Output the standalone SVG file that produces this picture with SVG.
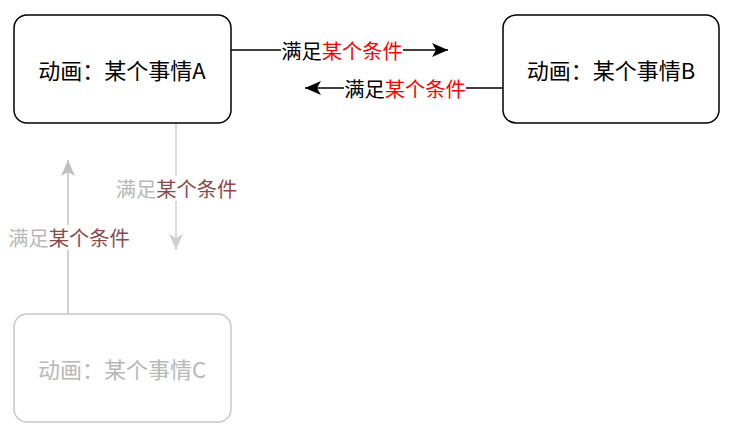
<svg xmlns="http://www.w3.org/2000/svg" width="733" height="437" viewBox="0 0 733 437">
<style>
text{font-family:"Noto Sans CJK SC","Noto Sans",sans-serif;font-size:22px;text-anchor:middle;dominant-baseline:central}
.node{fill:#fff;stroke:#000;stroke-width:1.5}
.nodeC{fill:#fff;stroke:#c8c8c8;stroke-width:1.5}
.edge{fill:none;stroke:#000;stroke-width:1.5}
.lbl{font-size:20.3px}
.red{fill:#ff0000}
.gray{fill:#b8b8b8}
.dred{fill:#8a4a4a}
</style>
<defs>
<marker id="ahBlack" viewBox="0 0 16 14" refX="16" refY="7" markerWidth="16" markerHeight="14" markerUnits="userSpaceOnUse" orient="auto">
<path d="M16 7 L0 0 L4 7 L0 14 Z" fill="#000"/>
</marker>
<marker id="ahL" viewBox="0 0 16 14" refX="16" refY="7" markerWidth="16" markerHeight="14" markerUnits="userSpaceOnUse" orient="auto">
<path d="M16 7 L0 0 L4 7 L0 14 Z" fill="#d0d0d0"/>
</marker>
<marker id="ahG" viewBox="0 0 16 14" refX="16" refY="7" markerWidth="16" markerHeight="14" markerUnits="userSpaceOnUse" orient="auto">
<path d="M16 7 L0 0 L4 7 L0 14 Z" fill="#c0c0c0"/>
</marker>
</defs>
<g id="connectors">
<g id="e1">
<path class="edge" d="M231 50 H448" marker-end="url(#ahBlack)"/>
<rect x="281" y="38" width="122" height="25" fill="#fff"/>
<text class="lbl" x="342" y="50"><tspan>满足</tspan><tspan class="red">某个条件</tspan></text>
</g>
<g id="e2">
<path class="edge" d="M503 88 H305" marker-end="url(#ahBlack)"/>
<rect x="344" y="76" width="122" height="25" fill="#fff"/>
<text class="lbl" x="405" y="88"><tspan>满足</tspan><tspan class="red">某个条件</tspan></text>
</g>
<g id="e3">
<path class="edge" style="stroke:#d0d0d0" d="M176 123 V250" marker-end="url(#ahL)"/>
<rect x="115" y="176" width="123" height="25" fill="#fff"/>
<text class="lbl" x="176.5" y="188"><tspan class="gray">满足</tspan><tspan class="dred">某个条件</tspan></text>
</g>
<g id="e4">
<path class="edge" style="stroke:#c0c0c0" d="M68 314 V160" marker-end="url(#ahG)"/>
<rect x="8" y="225" width="123" height="25" fill="#fff"/>
<text class="lbl" x="69" y="237"><tspan class="gray">满足</tspan><tspan class="dred">某个条件</tspan></text>
</g>
</g>
<g id="nodeA">
<rect class="node" x="14" y="15" width="217" height="108" rx="13"/>
<text x="122" y="69">动画：某个事情A</text>
</g>
<g id="nodeB">
<rect class="node" x="503" y="15" width="216" height="108" rx="13"/>
<text x="611" y="69">动画：某个事情B</text>
</g>
<g id="nodeC">
<rect class="nodeC" x="14" y="314" width="217" height="108" rx="13"/>
<text x="122" y="368" style="fill:#b8b8b8">动画：某个事情C</text>
</g>
</svg>
